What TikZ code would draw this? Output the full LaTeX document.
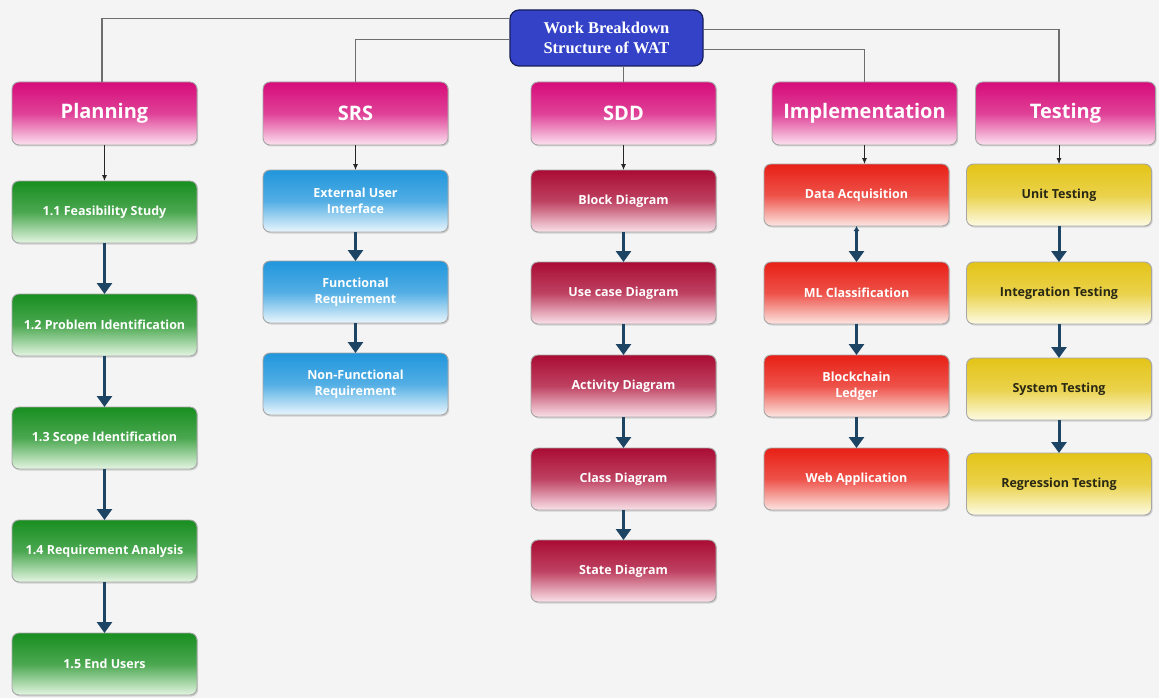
\documentclass[tikz,border=0pt]{standalone}
\usepackage{fontspec}
\newfontfamily\boxfont{Open Sans}
\newfontfamily\rootfont{Liberation Serif}
\usepackage{tikz}
\usetikzlibrary{positioning,arrows.meta,shadows}
\definecolor{bgcol}{RGB}{244,244,244}
\definecolor{rootcol}{RGB}{52,66,200}
\definecolor{rootline}{RGB}{22,30,90}
\definecolor{linkcol}{RGB}{110,110,110}
\definecolor{flowcol}{RGB}{30,68,100}
\definecolor{pinktop}{RGB}{214,12,122}
\definecolor{pinkbot}{RGB}{252,226,240}
\definecolor{greentop}{RGB}{24,142,32}
\definecolor{greenbot}{RGB}{228,245,226}
\definecolor{bluetop}{RGB}{32,150,220}
\definecolor{bluebot}{RGB}{234,246,253}
\definecolor{maroontop}{RGB}{170,12,52}
\definecolor{maroonbot}{RGB}{250,226,234}
\definecolor{redtop}{RGB}{232,32,22}
\definecolor{redbot}{RGB}{253,230,226}
\definecolor{yellowtop}{RGB}{228,196,24}
\definecolor{yellowbot}{RGB}{253,251,228}
\definecolor{darktext}{RGB}{40,40,20}
\tikzset{
  link/.style={draw=linkcol, line width=1.3pt},
  thin/.style={-{Latex[length=6pt,width=5pt]}, line width=0.8pt, black!85},
  flow/.style={-{Triangle[length=11pt,width=15pt]}, line width=3pt, flowcol},
  rootbox/.style={draw=rootline, line width=1.2pt, fill=rootcol, rounded corners=9pt,
    minimum width=193pt, minimum height=56pt, align=center, text=white,
    font=\rootfont\bfseries\fontsize{16.5}{20}\selectfont},
  box/.style={draw=black!35, line width=0.9pt, rounded corners=7pt, align=center,
    outer sep=0pt, minimum width=185pt, minimum height=62pt, text=white,
    drop shadow={opacity=0.3, shadow xshift=1.2pt, shadow yshift=-1.5pt}},
  shade/.style 2 args={top color=#1, bottom color=#2, middle color=#1!75!#2},
  catbox/.style={box, shade={pinktop}{pinkbot}, minimum height=63pt,
    font=\boxfont\bfseries\fontsize{20}{24}\selectfont},
  subbox/.style={box, font=\boxfont\bfseries\fontsize{12.5}{16}\selectfont},
  planbox/.style={subbox, shade={greentop}{greenbot}},
  srsbox/.style={subbox, shade={bluetop}{bluebot}},
  sddbox/.style={subbox, shade={maroontop}{maroonbot}},
  implbox/.style={subbox, shade={redtop}{redbot}},
  testbox/.style={subbox, shade={yellowtop}{yellowbot}, text=darktext}
}
\begin{document}
\begin{tikzpicture}[x=1pt, y=-1pt]
  \fill[bgcol] (0,0) rectangle (1159,698);
  \useasboundingbox (0,0) rectangle (1159,698);

  \node[rootbox] (root) at (606.5,38) {Work Breakdown\\Structure of WAT};

  \node[catbox] (plan) at (104.5,113.5) {Planning};
  \node[catbox] (srs) at (355.5,113.5) {SRS};
  \node[catbox] (sdd) at (623.5,113.5) {SDD};
  \node[catbox] (impl) at (864.5,113.5) {Implementation};
  \node[catbox, minimum width=180pt] (test) at (1065.5,113.5) {Testing};

  \node[planbox, below=36pt of plan] (p1) {1.1 Feasibility Study};
  \node[planbox, below=51pt of p1] (p2) {1.2 Problem Identification};
  \node[planbox, below=51pt of p2] (p3) {1.3 Scope Identification};
  \node[planbox, below=51pt of p3] (p4) {1.4 Requirement Analysis};
  \node[planbox, below=51pt of p4] (p5) {1.5 End Users};

  \node[srsbox, below=25pt of srs] (s1) {External User\\Interface};
  \node[srsbox, below=29pt of s1] (s2) {Functional\\Requirement};
  \node[srsbox, below=30pt of s2] (s3) {Non-Functional\\Requirement};

  \node[sddbox, below=25pt of sdd] (d1) {Block Diagram};
  \node[sddbox, below=30pt of d1] (d2) {Use case Diagram};
  \node[sddbox, below=31pt of d2] (d3) {Activity Diagram};
  \node[sddbox, below=31pt of d3] (d4) {Class Diagram};
  \node[sddbox, below=30pt of d4] (d5) {State Diagram};

  \node[implbox, below=19pt of impl, xshift=-8pt] (i1) {Data Acquisition};
  \node[implbox, below=36pt of i1] (i2) {ML Classification};
  \node[implbox, below=31pt of i2] (i3) {Blockchain\\Ledger};
  \node[implbox, below=31pt of i3] (i4) {Web Application};

  \node[testbox, below=19pt of test, xshift=-6.5pt] (t1) {Unit Testing};
  \node[testbox, below=36pt of t1] (t2) {Integration Testing};
  \node[testbox, below=34pt of t2] (t3) {System Testing};
  \node[testbox, below=33pt of t3] (t4) {Regression Testing};

  \draw[link] ([yshift=-9pt]root.north west) -| ([xshift=-2.5pt]plan.north);
  \draw[link] ([yshift=-30pt]root.north west) -| (srs.north);
  \draw[link] ([xshift=17.5pt]root.south) -- (root.south -| sdd.north) -- (sdd.north);
  \draw[link] ([yshift=-20pt]root.north east) -| ([xshift=-6.5pt]test.north);
  \draw[link] ([yshift=-40pt]root.north east) -| (impl.north);

  \draw[thin] (plan) -- (p1);
  \draw[thin] (srs) -- (s1);
  \draw[thin] (sdd) -- (d1);
  \draw[thin] (impl.south) -- (impl.south |- i1.north);
  \draw[thin] ([xshift=-6.5pt]test.south) -- ([xshift=-6.5pt]test.south |- t1.north);

  \draw[flow] (p1) -- (p2);
  \draw[flow] (p2) -- (p3);
  \draw[flow] (p3) -- (p4);
  \draw[flow] (p4) -- (p5);
  \draw[flow] (s1) -- (s2);
  \draw[flow] (s2) -- (s3);
  \draw[flow] (d1) -- (d2);
  \draw[flow] (d2) -- (d3);
  \draw[flow] (d3) -- (d4);
  \draw[flow] (d4) -- (d5);
  \draw[flow, {Latex[length=5pt,width=6pt]}-{Triangle[length=11pt,width=15pt]}] (i1) -- (i2);
  \draw[flow] (i2) -- (i3);
  \draw[flow] (i3) -- (i4);
  \draw[flow] (t1) -- (t2);
  \draw[flow] (t2) -- (t3);
  \draw[flow] (t3) -- (t4);
\end{tikzpicture}
\end{document}
